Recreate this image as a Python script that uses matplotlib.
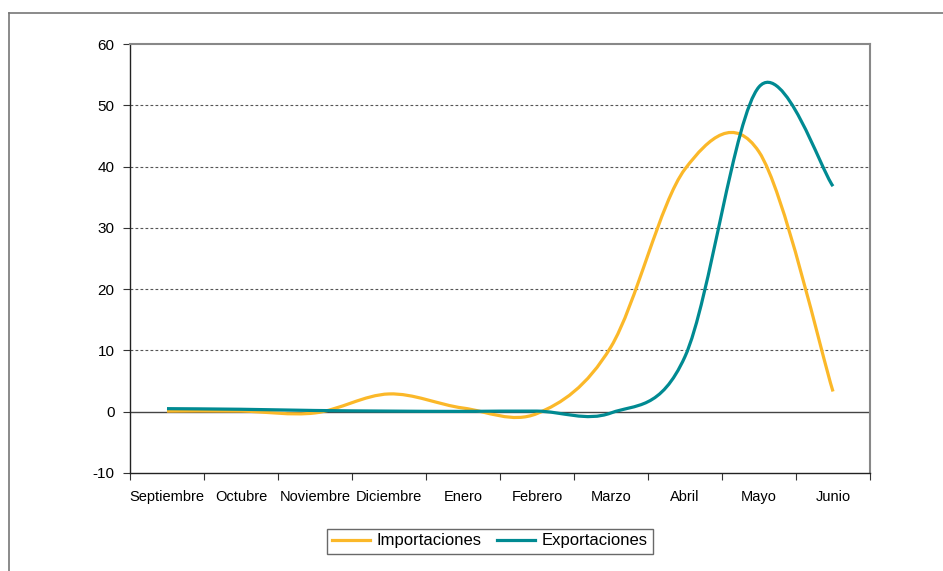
import numpy as np
import matplotlib
matplotlib.use("Agg")
import matplotlib.pyplot as plt
from matplotlib.lines import Line2D
from matplotlib.path import Path
from matplotlib.patches import PathPatch

plt.rcParams['font.family'] = ['Liberation Sans', 'DejaVu Sans']

meses = ["Septiembre", "Octubre", "Noviembre", "Diciembre", "Enero",
         "Febrero", "Marzo", "Abril", "Mayo", "Junio"]
importaciones = [0.1, 0.1, -0.2, 2.9, 0.6, -0.3, 10.6, 39.6, 42.4, 3.3]
exportaciones = [0.5, 0.4, 0.2, 0.1, 0.05, 0.1, -0.2, 9.0, 53.0, 36.8]
y_ticks = [-10, 0, 10, 20, 30, 40, 50, 60]

COL_IMP = "#FBB829"
COL_EXP = "#008A92"


def smooth_path(xs, ys):
    """Cubic Bezier path through the points (Catmull-Rom style tangents)."""
    pts = np.column_stack([xs, ys]).astype(float)
    n = len(pts)
    verts = [pts[0]]
    codes = [Path.MOVETO]
    for i in range(n - 1):
        p0 = pts[i - 1] if i > 0 else pts[i]
        p1 = pts[i]
        p2 = pts[i + 1]
        p3 = pts[i + 2] if i + 2 < n else pts[i + 1]
        c1 = p1 + (p2 - p0) / 6.0
        c2 = p2 - (p3 - p1) / 6.0
        verts += [c1, c2, p2]
        codes += [Path.CURVE4] * 3
    return Path(verts, codes)


fig = plt.figure(figsize=(9.43, 5.71), dpi=100)
ax = fig.add_axes([130 / 943, 1 - 473 / 571, 740 / 943, 429 / 571])

x = np.arange(len(meses)) + 0.5
for vals, col in ((importaciones, COL_IMP), (exportaciones, COL_EXP)):
    ax.add_patch(PathPatch(smooth_path(x, vals), facecolor="none",
                           edgecolor=col, lw=2.3, capstyle="butt", zorder=3))

ax.set_xlim(0, len(meses))
ax.set_ylim(-10, 60)
ax.set_yticks(y_ticks)
ax.set_yticklabels([str(v) for v in y_ticks], fontsize=11)

ax.set_xticks(np.arange(len(meses) + 1))
ax.set_xticklabels([])
ax.set_xticks(x, minor=True)
ax.set_xticklabels(meses, minor=True, fontsize=10.5)
ax.tick_params(axis="x", which="minor", length=0, pad=12)
ax.tick_params(axis="x", which="major", length=5, width=0.8, color="#333333")
ax.tick_params(axis="y", length=5, width=0.8, color="#333333", pad=6)

for v in (10, 20, 30, 40, 50):
    ax.axhline(v, color="#555555", lw=0.8, ls=(0, (2.5, 2)), zorder=1)
ax.axhline(0, color="#444444", lw=1.0, zorder=2)

for side in ("left", "bottom"):
    ax.spines[side].set_color("#222222")
    ax.spines[side].set_linewidth(1.0)
for side in ("top", "right"):
    ax.spines[side].set_color("#888888")
    ax.spines[side].set_linewidth(1.5)

handles = [Line2D([], [], color=COL_IMP, lw=2.3),
           Line2D([], [], color=COL_EXP, lw=2.3)]
leg = fig.legend(handles, ["Importaciones", "Exportaciones"],
                 loc="center", bbox_to_anchor=(490 / 943, 1 - 541 / 571),
                 ncol=2, fontsize=12, frameon=True, fancybox=False,
                 handlelength=2.3, handletextpad=0.4, columnspacing=0.9,
                 borderpad=0.3)
leg.get_frame().set_edgecolor("#444444")
leg.get_frame().set_linewidth(1.0)

# outer chart frame (top and left edges)
fig.add_artist(Line2D([9 / 943, 1.0], [1 - 13 / 571, 1 - 13 / 571],
                      transform=fig.transFigure, color="#777777", lw=1.2))
fig.add_artist(Line2D([9 / 943, 9 / 943], [0, 1 - 13 / 571],
                      transform=fig.transFigure, color="#777777", lw=1.2))

fig.savefig("out.png", dpi=100)
